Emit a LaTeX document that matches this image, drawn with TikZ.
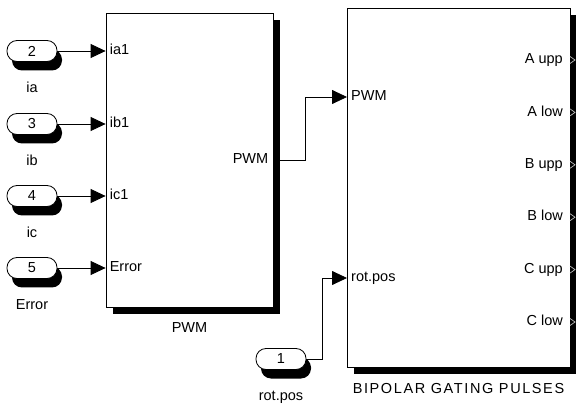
\documentclass[tikz,border=0pt]{standalone}
\usepackage{fontspec}
\setmainfont{Liberation Sans}
\usetikzlibrary{
  arrows.meta,
  positioning,
  shadows
}
\tikzset{
  block/.style={draw, line width=0.8pt, fill=white, inner sep=0pt,
    drop shadow={shadow xshift=7pt, shadow yshift=-7pt, fill=black, opacity=1}},
  inport/.style={draw, line width=0.8pt, fill=white, rounded corners=10pt,
    minimum width=50pt, minimum height=21pt, inner sep=0pt,
    drop shadow={shadow xshift=5pt, shadow yshift=-9pt, fill=black, opacity=1}},
  txt/.style={inner sep=0pt, text height=10.4pt, text depth=3pt},
  sig/.style={line width=0.8pt, -{Triangle[length=15pt,width=14pt]}},
  outtip/.style={gray!55, line width=0.7pt}
}

\begin{document}
\begin{tikzpicture}[x=1pt, y=-1pt, font=\fontsize{14.5}{17}\selectfont]
  \useasboundingbox (0,0) rectangle (576,406);
  % blocks
  \node[block, minimum width=167pt, minimum height=294pt] (pwm) at (189.5,160) {};
  \node[block, minimum width=223pt, minimum height=359pt] (gate) at (458.5,187.5) {};
  \node[txt, below=15pt of pwm] (pwmname) {PWM};
  \node[txt, below=15pt of gate] (gatename) {\addfontfeature{LetterSpace=11}BIPOLAR GATING PULSES};
  % current and error inports
  \foreach \n/\lab/\port/\y [count=\i] in {2/ia/ia1/51, 3/ib/ib1/124, 4/ic/ic1/196, 5/Error/Error/268}{
    \node[inport] (in\i) at (32,\y) {\n};
    \node[txt, below=20pt of in\i] (inname\i) {\lab};
    \coordinate (pin\i) at (pwm.west |- in\i.center);
    \node[txt, anchor=west] (pinname\i) at ([xshift=4pt]pin\i) {\port};
    \draw[sig] (in\i) -- (pin\i);
  }
  % pwm output to gating block
  \coordinate (gin1) at (347,97);
  \coordinate (gin2) at (347,278);
  \node[txt, anchor=east] (poutname) at ([xshift=-5pt]pwm.east) {PWM};
  \node[txt, anchor=west] (ginname1) at ([xshift=4pt]gin1) {PWM};
  \node[txt, anchor=west] (ginname2) at ([xshift=4pt]gin2) {rot.pos};
  \draw[sig] (pwm.east) -- ++(32,0) |- (gin1);
  % rotor position inport
  \node[inport] (in0) at (281,359) {1};
  \node[txt, below=20pt of in0] (inname0) {rot.pos};
  \draw[sig] (in0) -- ++(41,0) |- (gin2);
  % gate outputs
  \foreach \lab/\y [count=\i] in {A upp/60, A low/112.4, B upp/164.8, B low/217.2, C upp/269.6, C low/322}{
    \coordinate (gout\i) at (570,\y);
    \node[txt, anchor=east] (goutname\i) at ([xshift=-7pt]gout\i) {\lab};
    \draw[outtip] (gout\i) ++(0,-3.5) -- ++(5,3.5) -- ++(-5,3.5);
  }
\end{tikzpicture}
\end{document}
